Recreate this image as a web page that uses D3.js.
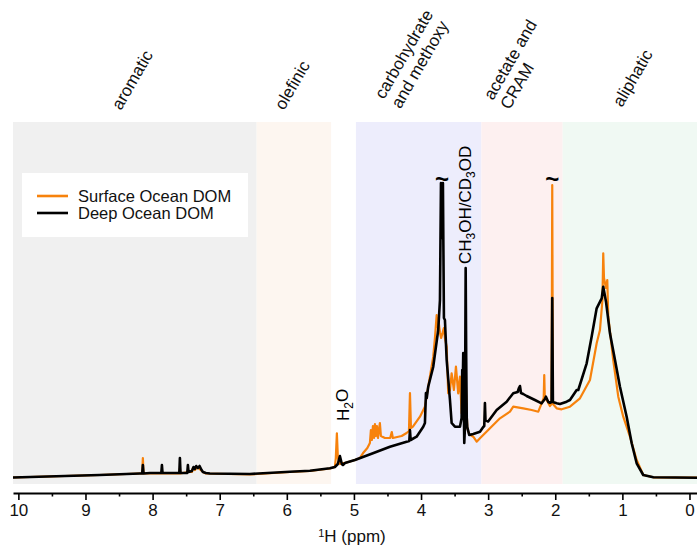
<!DOCTYPE html>
<html>
<head>
<meta charset="utf-8">
<script src="https://cdn.jsdelivr.net/npm/d3@7"></script>
<style>
  body { margin: 0; background: #fff; }
  svg { font-family: Arial, "Liberation Sans", sans-serif; }
</style>
</head>
<body>
<div id="chart"></div>
<script>
// chemical shift (ppm) vs. intensity
const deepOcean = [
  [10.08, 0.5], [8.79, 3], [8.19, 4.5], [8.155, 4.5], [8.145, 13], [8.135, 4.5], [8.04, 5],
  [7.87, 5], [7.861, 13], [7.852, 5], [7.74, 5], [7.602, 5], [7.593, 20], [7.584, 5],
  [7.484, 5], [7.474, 13], [7.464, 6], [7.414, 7], [7.39, 11], [7.37, 9], [7.35, 12],
  [7.325, 10], [7.30, 12], [7.27, 8], [7.25, 6], [7.206, 5], [7.146, 4.5], [6.55, 4],
  [5.954, 6.3], [5.656, 7.3], [5.358, 9.7], [5.284, 11], [5.24, 14], [5.209, 22], [5.18, 14],
  [5.164, 13], [5.134, 15], [4.985, 18], [4.717, 24.7], [4.463, 31.3], [4.215, 36.3],
  [4.175, 37], [4.165, 48], [4.155, 38], [4.066, 41.3], [3.967, 51.3], [3.942, 55],
  [3.927, 85], [3.915, 80], [3.893, 91.3], [3.818, 111.3], [3.744, 148], [3.718, 178],
  [3.703, 295], [3.689, 240], [3.674, 295], [3.659, 160], [3.644, 158], [3.618, 118],
  [3.569, 78], [3.544, 55], [3.495, 51.3], [3.42, 51.3], [3.395, 60], [3.386, 108],
  [3.379, 90], [3.371, 125], [3.363, 75], [3.356, 35], [3.346, 50], [3.335, 210],
  [3.327, 120], [3.319, 60], [3.311, 51], [3.282, 43], [3.222, 44], [3.122, 46.3],
  [3.073, 51], [3.058, 52], [3.048, 75], [3.04, 58], [3.0, 56.5], [2.873, 68], [2.724, 76.3],
  [2.626, 84.7], [2.56, 86], [2.541, 90], [2.526, 92], [2.511, 85], [2.477, 84], [2.426, 82],
  [2.303, 78], [2.203, 74.7], [2.154, 79], [2.139, 81.3], [2.104, 76], [2.079, 75.3],
  [2.055, 76], [2.045, 180], [2.035, 76], [1.979, 74.7], [1.93, 74], [1.83, 76.3],
  [1.781, 78], [1.681, 88], [1.657, 88], [1.532, 114.7], [1.458, 141.3], [1.383, 169.7],
  [1.308, 179.7], [1.285, 191.3], [1.244, 176.3], [1.185, 144.7], [1.110, 118],
  [1.036, 91.3], [0.936, 61.3], [0.861, 34.7], [0.787, 14.7], [0.689, 3], [0.539, 0.7],
  [-0.112, 0.3]
];

const surfaceOcean = [
  [10.08, 0.5], [8.79, 3], [8.19, 4.5], [8.155, 4.5], [8.145, 20], [8.135, 4.5], [8.04, 4.5],
  [7.87, 4.5], [7.861, 7], [7.852, 4.5], [7.602, 4.5], [7.593, 10], [7.584, 4.5], [7.474, 6],
  [7.414, 6], [7.40, 10], [7.37, 8], [7.33, 11], [7.30, 9], [7.25, 6], [7.206, 4.5],
  [6.55, 3.5], [5.954, 6], [5.656, 7], [5.358, 9.5], [5.284, 11], [5.27, 20], [5.254, 44.7],
  [5.239, 20], [5.209, 14], [5.164, 15], [5.134, 15], [4.985, 18], [4.911, 20], [4.866, 24.7],
  [4.80, 30], [4.762, 35], [4.747, 48], [4.732, 38], [4.717, 52], [4.70, 40], [4.687, 54],
  [4.672, 42], [4.657, 52], [4.642, 40], [4.613, 55], [4.598, 42], [4.538, 40], [4.46, 40],
  [4.436, 46], [4.42, 40], [4.289, 42], [4.215, 45], [4.18, 47], [4.165, 85], [4.15, 50],
  [4.121, 51.3], [4.016, 61.3], [3.942, 71.3], [3.893, 91.3], [3.818, 121.3], [3.793, 140],
  [3.767, 163], [3.759, 151], [3.744, 160], [3.718, 145], [3.70, 140], [3.66, 150],
  [3.644, 140], [3.618, 131.3], [3.595, 84.7], [3.569, 88], [3.544, 104.7], [3.51, 88],
  [3.48, 111.3], [3.446, 84.7], [3.42, 101.3], [3.395, 64.7], [3.371, 88], [3.356, 70],
  [3.335, 100], [3.311, 50], [3.282, 43.7], [3.222, 41.3], [3.171, 36.3], [3.122, 39.7],
  [2.973, 49.7], [2.824, 59.7], [2.675, 66.3], [2.626, 71.3], [2.477, 69.7], [2.352, 68],
  [2.253, 66.3], [2.203, 74.7], [2.172, 80], [2.164, 103], [2.156, 80], [2.128, 78],
  [2.08, 72], [2.055, 74], [2.045, 293], [2.035, 74], [1.979, 69.7], [1.905, 68.7],
  [1.781, 71.3], [1.632, 79.7], [1.483, 98], [1.383, 134.7], [1.334, 148], [1.297, 178],
  [1.285, 224.7], [1.274, 200], [1.259, 194.7], [1.244, 190], [1.225, 198], [1.210, 161.3],
  [1.136, 118], [1.061, 81.3], [0.987, 61.3], [0.887, 41.3], [0.787, 18], [0.689, 3],
  [0.539, 0.7], [-0.112, 0.3]
];

const regionLabels = [['aromatic'], ['olefinic'], ['carbohydrate', 'and methoxy'], ['acetate and', 'CRAM'], ['aliphatic']];
const regionRanges = [[10.08, 6.45], [6.45, 5.34], [4.97, 3.1], [3.1, 1.89], [1.89, -0.112]];
const seriesNames = ['Surface Ocean DOM', 'Deep Ocean DOM'];
const xTicks = [10, 9, 8, 7, 6, 5, 4, 3, 2, 1, 0];
const brokenPeaks = [3.689, 2.045];

const regionColors = ['#f0f0f0', '#fdf6f0', '#ededfc', '#fdf0f0', '#f0f9f3'];
const labelAnchors = [[121, 111], [284, 111], [384, 100], [493, 101], [622, 108]];
const seriesColors = ['#f7820c', '#000000'];

const width = 697;
const height = 550;
const plotTop = 122;
const plotBottom = 484;
const axisY = 493;

const svg = d3.select('#chart').append('svg')
  .attr('width', width)
  .attr('height', height);

const x = d3.scaleLinear()
  .domain([10.08, -0.112])
  .range([13, 697]);
const y = d3.scaleLinear()
  .domain([0, 356])
  .range([478, 122]);

// shaded regions
svg.append('g').selectAll('rect')
  .data(regionRanges)
  .enter().append('rect')
  .attr('x', function(d) { return x(d[0]); })
  .attr('y', plotTop)
  .attr('width', function(d) { return x(d[1]) - x(d[0]); })
  .attr('height', plotBottom - plotTop)
  .attr('fill', function(d, i) { return regionColors[i]; });

// region labels
const labels = svg.append('g').selectAll('text')
  .data(regionLabels)
  .enter().append('text')
  .attr('transform', function(d, i) { return 'translate(' + labelAnchors[i] + ') rotate(-60)'; })
  .attr('font-size', 17)
  .attr('fill', '#111');
labels.selectAll('tspan')
  .data(function(d) { return d; })
  .enter().append('tspan')
  .attr('x', 0)
  .attr('dy', function(d, i) { return i === 0 ? 0 : 19; })
  .text(function(d) { return d; });

// spectra
const line = d3.line()
  .x(function(d) { return x(d[0]); })
  .y(function(d) { return y(d[1]); });

svg.append('path')
  .datum(surfaceOcean)
  .attr('d', line)
  .attr('fill', 'none')
  .attr('stroke', seriesColors[0])
  .attr('stroke-width', 2.2)
  .attr('stroke-linejoin', 'round');

svg.append('path')
  .datum(deepOcean)
  .attr('d', line)
  .attr('fill', 'none')
  .attr('stroke', seriesColors[1])
  .attr('stroke-width', 2.6)
  .attr('stroke-linejoin', 'round');

// break marks on clipped peaks
svg.append('g').selectAll('text')
  .data(brokenPeaks)
  .enter().append('text')
  .attr('x', function(d) { return x(d); })
  .attr('y', 187)
  .attr('text-anchor', 'middle')
  .attr('font-size', 24)
  .attr('font-weight', 'bold')
  .text('~');

// peak annotations
const h2o = svg.append('text')
  .attr('transform', 'translate(349,421) rotate(-90)')
  .attr('font-size', 17);
h2o.append('tspan').text('H');
h2o.append('tspan').attr('font-size', 12).attr('dy', '0.3em').text('2');
h2o.append('tspan').attr('dy', '-0.3em').text('O');

const solvent = svg.append('text')
  .attr('transform', 'translate(471,264) rotate(-90)')
  .attr('font-size', 17);
[['CH', 0], ['3', 1], ['OH/CD', 0], ['3', 1], ['OD', 0]].forEach(function(part, i, parts) {
  const prev = i > 0 ? parts[i - 1][1] : 0;
  solvent.append('tspan')
    .attr('font-size', part[1] ? 12 : 17)
    .attr('dy', part[1] === prev ? 0 : (part[1] ? '0.3em' : '-0.21em'))
    .text(part[0]);
});

// x axis
const axis = svg.append('g')
  .attr('transform', 'translate(0,' + axisY + ')')
  .call(d3.axisBottom(x)
    .tickValues(xTicks)
    .tickSizeInner(7)
    .tickSizeOuter(0)
    .tickPadding(4)
    .tickFormat(d3.format('d')));
axis.select('.domain').attr('stroke-width', 2);
axis.selectAll('.tick line').attr('stroke-width', 1.6);
axis.selectAll('.tick text').attr('font-size', 17).attr('font-family', 'Arial, "Liberation Sans", sans-serif').attr('fill', '#111');

const minor = svg.append('g')
  .attr('transform', 'translate(0,' + axisY + ')')
  .call(d3.axisBottom(x)
    .tickValues(d3.range(0.5, 10, 1))
    .tickSizeInner(3.5)
    .tickSizeOuter(0)
    .tickFormat(''));
minor.select('.domain').remove();
minor.selectAll('.tick line').attr('stroke-width', 1.6);

const xLabel = svg.append('text')
  .attr('x', 352)
  .attr('y', 542)
  .attr('text-anchor', 'middle')
  .attr('font-size', 17)
  .attr('fill', '#111');
xLabel.append('tspan').attr('font-size', 11).attr('dy', '-0.5em').text('1');
xLabel.append('tspan').attr('dy', '0.32em').text('H (ppm)');

// legend
const legend = svg.append('g');
legend.append('rect')
  .attr('x', 22)
  .attr('y', 173)
  .attr('width', 226)
  .attr('height', 64)
  .attr('fill', '#fff');
const entries = legend.selectAll('g.entry')
  .data(seriesNames)
  .enter().append('g')
  .attr('class', 'entry')
  .attr('transform', function(d, i) { return 'translate(0,' + (196 + i * 17) + ')'; });
entries.append('line')
  .attr('x1', 37)
  .attr('x2', 68)
  .attr('stroke', function(d, i) { return seriesColors[i]; })
  .attr('stroke-width', 2.6);
entries.append('text')
  .attr('x', 78)
  .attr('y', 5.5)
  .attr('font-size', 16.5)
  .attr('fill', '#111')
  .text(function(d) { return d; });
</script>
</body>
</html>
